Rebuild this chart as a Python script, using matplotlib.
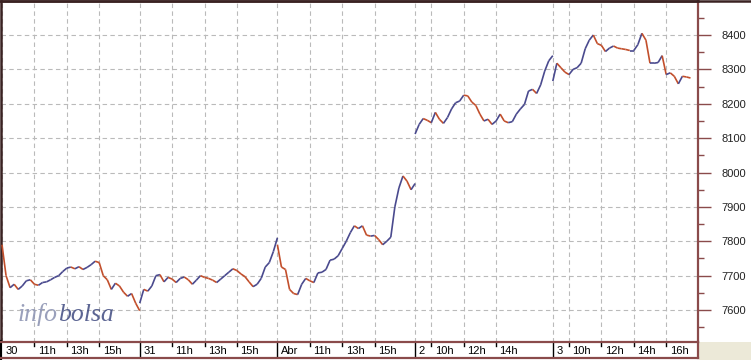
import numpy as np
import matplotlib.pyplot as plt
from matplotlib.collections import LineCollection
from matplotlib.patches import Rectangle
from matplotlib.lines import Line2D
from matplotlib.ticker import MultipleLocator
from matplotlib import transforms

plt.rcParams['font.family'] = ['Liberation Sans', 'DejaVu Sans']

# session labels and hour marks
day_labels = ['30', '31', 'Abr', '2', '3']
hour_ticks = [[11, 13, 15], [11, 13, 15], [11, 13, 15], [10, 12, 14], [10, 12, 14, 16]]
hour_labels = [['11h', '13h', '15h'], ['11h', '13h', '15h'], ['11h', '13h', '15h'],
               ['10h', '12h', '14h'], ['10h', '12h', '14h', '16h']]

# index level every 15 minutes, 9:00 .. 17:30 each session
day30 = [7790, 7700, 7665, 7675, 7660, 7670, 7685, 7688, 7675, 7672, 7680, 7682,
         7688, 7695, 7700, 7712, 7722, 7725, 7720, 7726, 7718, 7724, 7732, 7742,
         7738, 7700, 7688, 7660, 7678, 7670, 7652, 7640, 7648, 7620, 7598]
day31 = [7620, 7660, 7655, 7670, 7700, 7703, 7682, 7695, 7690, 7680, 7692, 7696,
         7688, 7675, 7687, 7700, 7695, 7692, 7687, 7680, 7690, 7700, 7710, 7720,
         7715, 7705, 7697, 7682, 7668, 7675, 7692, 7725, 7738, 7770, 7810]
abr1 = [7790, 7725, 7718, 7660, 7648, 7645, 7675, 7692, 7685, 7680, 7708, 7710,
        7718, 7745, 7748, 7758, 7779, 7800, 7825, 7845, 7837, 7845, 7818, 7815,
        7817, 7805, 7790, 7800, 7812, 7900, 7955, 7990, 7975, 7950, 7968]
abr2 = [8112, 8140, 8157, 8152, 8145, 8175, 8155, 8143, 8160, 8185, 8203, 8208,
        8225, 8223, 8205, 8195, 8170, 8150, 8155, 8140, 8150, 8170, 8150, 8145,
        8148, 8170, 8185, 8198, 8237, 8242, 8230, 8255, 8295, 8325, 8340]
abr3 = [8266, 8318, 8305, 8292, 8285, 8300, 8305, 8318, 8360, 8385, 8400, 8375,
        8370, 8352, 8362, 8368, 8362, 8360, 8358, 8355, 8355, 8372, 8405, 8385,
        8318, 8318, 8320, 8340, 8285, 8290, 8280, 8258, 8280, 8278, 8275]
sessions = [day30, day31, abr1, abr2, abr3]

session_len = 8.5
up_color = '#4a4a8e'
down_color = '#c24f2c'
grid_color = '#bababa'
frame_color = '#8a4b4b'

fig = plt.figure(figsize=(7.51, 3.6), dpi=100, facecolor='white')
ax = fig.add_axes([1 / 751, 18 / 360, 697 / 751, 341 / 360])
xmin, xmax = -1 / 16.2, 696 / 16.2
ax.set_xlim(xmin, xmax)
ax.set_ylim(7507, 8499)

for d, vals in enumerate(sessions):
    t = d * session_len + np.arange(len(vals)) * 0.25
    v = np.array(vals, dtype=float)
    pts = np.column_stack([t, v]).reshape(-1, 1, 2)
    segs = np.concatenate([pts[:-1], pts[1:]], axis=1)
    cols = [up_color if b >= a else down_color for a, b in zip(v[:-1], v[1:])]
    ax.add_collection(LineCollection(segs, colors=cols, linewidths=1.2, zorder=3))

# grid positions
xt = []
for d in range(len(day_labels)):
    xt.append(d * session_len)
    xt += [d * session_len + h - 9 for h in hour_ticks[d]]
ax.set_xticks(xt)
ax.tick_params(axis='x', length=0, labelbottom=False)
ax.yaxis.tick_right()
ax.yaxis.set_major_locator(MultipleLocator(100))
ax.yaxis.set_minor_locator(MultipleLocator(50))
ax.tick_params(axis='y', which='major', direction='out', length=9, width=1,
               color=frame_color, pad=8, labelsize=8, labelcolor='#222222')
ax.tick_params(axis='y', which='minor', direction='out', length=4, width=1,
               color=frame_color)
ax.grid(True, color=grid_color, linestyle=(0, (4, 3)), linewidth=0.8, zorder=0)
ax.set_axisbelow(True)
for s in ['top', 'left']:
    ax.spines[s].set_color('#3a2222')
    ax.spines[s].set_linewidth(1.8)
ax.spines['right'].set_color(frame_color)
ax.spines['right'].set_linewidth(1.6)
ax.spines['bottom'].set_color(frame_color)
ax.spines['bottom'].set_linewidth(1.4)

# watermark
ax.text(18 / 751, 39 / 360, 'info', transform=fig.transFigure, family='Liberation Serif',
        style='italic', fontsize=18.5, color='#8f96b4', alpha=0.9, zorder=1)
ax.text(58 / 751, 39 / 360, 'bolsa', transform=fig.transFigure, family='Liberation Serif',
        style='italic', fontsize=18.5, color='#3f4a80', alpha=0.85, zorder=1)

# time label strip
ax2 = fig.add_axes([0, 2 / 360, 698 / 751, 16 / 360])
ax2.set_xlim(xmin - 1 / 16.2, xmax)
ax2.set_ylim(0, 1)
ax2.set_xticks([])
ax2.set_yticks([])
for s in ['top', 'bottom', 'right']:
    ax2.spines[s].set_color(frame_color)
    ax2.spines[s].set_linewidth(1.6)
ax2.spines['left'].set_color('black')
ax2.spines['left'].set_linewidth(3)
shift = transforms.offset_copy(ax2.transData, fig=fig, x=2.5, y=0, units='points')
for d in range(len(day_labels)):
    x0 = d * session_len
    if d > 0:
        ax2.plot([x0, x0], [0, 1], color='black', lw=1)
    ax2.text(x0, 0.42, day_labels[d], transform=shift, fontsize=8, va='center', ha='left')
    for h, lab in zip(hour_ticks[d], hour_labels[d]):
        xh = x0 + h - 9
        ax2.plot([xh, xh], [1, 0.72], color='black', lw=1)
        ax2.text(xh, 0.42, lab, transform=shift, fontsize=8, va='center', ha='left')

# beige corner and top frame line
fig.patches.append(Rectangle((699 / 751, 0), 52 / 751, 18 / 360, transform=fig.transFigure,
                             facecolor='#ece9d8', edgecolor='none', zorder=-1))
fig.lines.append(Line2D([0, 1], [359 / 360, 359 / 360], transform=fig.transFigure,
                        color='#3a2222', lw=1.8))

fig.savefig('out.png', dpi=100, facecolor='white')
